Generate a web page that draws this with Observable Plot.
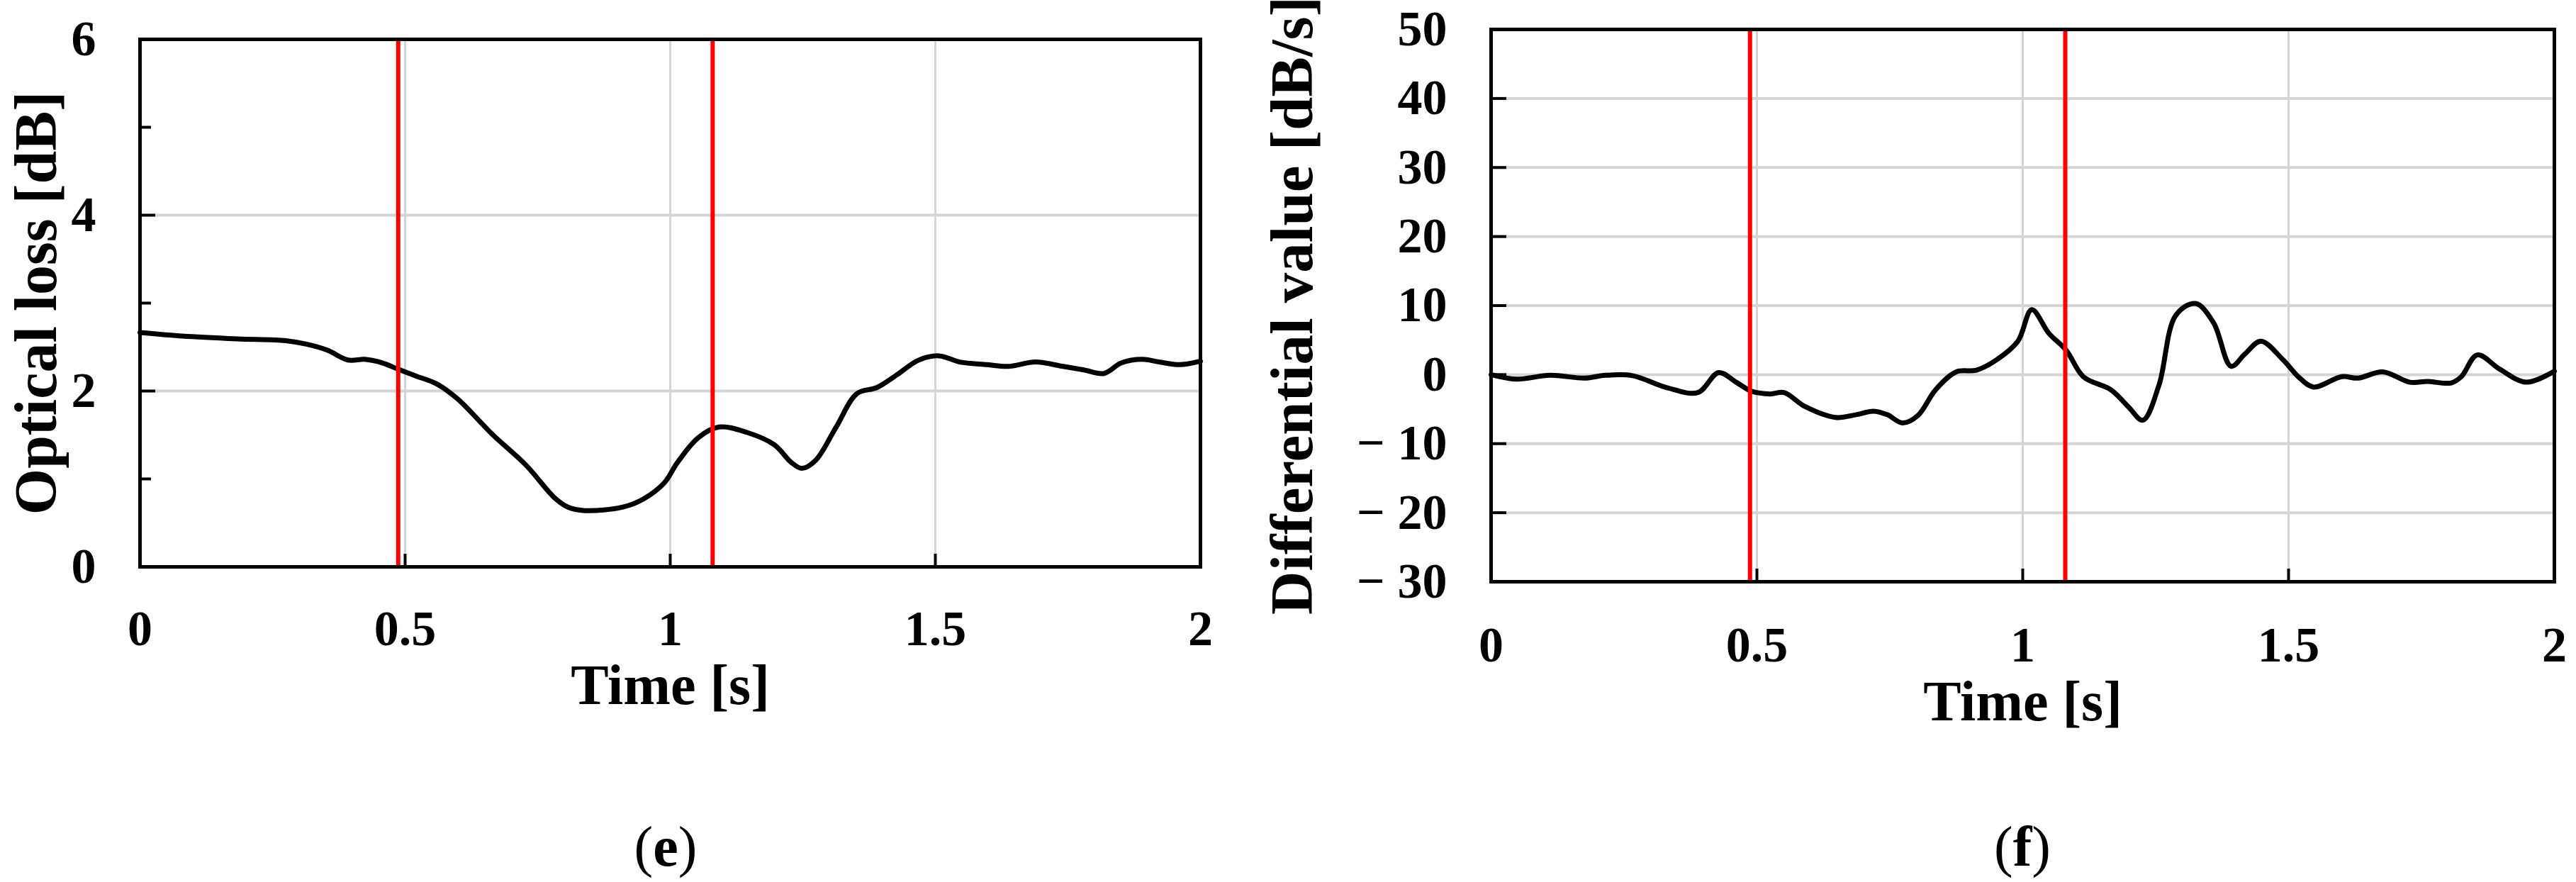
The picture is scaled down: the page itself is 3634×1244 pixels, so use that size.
<!DOCTYPE html>
<html>
<head>
<meta charset="utf-8">
<script src="https://cdn.jsdelivr.net/npm/d3@7"></script>
<script src="https://cdn.jsdelivr.net/npm/@observablehq/plot@0.6"></script>
<style>
  html, body { margin: 0; padding: 0; background: white; }
  #wrap { position: relative; width: 3634px; height: 1244px; background: white; }
  #wrap svg { position: absolute; top: 0; }
  .cap { position: absolute; top: 1194px; transform: translate(-50%, -50%);
         font-family: "Liberation Serif", "Times New Roman", serif; font-size: 80px; color: black; white-space: nowrap; }
  .cap b { font-weight: bold; }
</style>
</head>
<body>
<div id="wrap"></div>
<script>
// ---- Panel (e): optical loss ----
const timeE = [0, 0.08, 0.184, 0.275, 0.314, 0.353, 0.392, 0.424, 0.457, 0.486, 0.521, 0.560, 0.599, 0.664, 0.729, 0.781, 0.807, 0.839, 0.911, 0.949, 0.988, 1.014, 1.053, 1.092, 1.144, 1.196, 1.228, 1.248, 1.274, 1.313, 1.352, 1.390, 1.429, 1.468, 1.507, 1.546, 1.598, 1.637, 1.689, 1.741, 1.780, 1.818, 1.851, 1.890, 1.922, 1.961, 2.0];
const lossE = [2.665, 2.625, 2.593, 2.573, 2.533, 2.465, 2.353, 2.36, 2.32, 2.25, 2.17, 2.08, 1.91, 1.51, 1.15, 0.79, 0.68, 0.64, 0.68, 0.77, 0.95, 1.19, 1.47, 1.59, 1.53, 1.39, 1.19, 1.12, 1.21, 1.59, 1.97, 2.04, 2.19, 2.35, 2.40, 2.33, 2.30, 2.28, 2.33, 2.28, 2.24, 2.20, 2.32, 2.36, 2.33, 2.30, 2.34];

// ---- Panel (f): differential value ----
const timeF = [0, 0.047, 0.111, 0.176, 0.215, 0.266, 0.331, 0.389, 0.428, 0.461, 0.490, 0.525, 0.551, 0.590, 0.648, 0.687, 0.719, 0.745, 0.774, 0.803, 0.836, 0.875, 0.913, 0.952, 0.991, 1.017, 1.049, 1.082, 1.114, 1.166, 1.198, 1.226, 1.256, 1.288, 1.325, 1.359, 1.392, 1.418, 1.448, 1.489, 1.521, 1.547, 1.600, 1.631, 1.677, 1.728, 1.761, 1.806, 1.825, 1.855, 1.897, 1.947, 2.0];
const diffF = [0, -0.65, -0.1, -0.5, -0.1, -0.15, -1.9, -2.6, 0.3, -1.1, -2.4, -2.8, -2.6, -4.6, -6.2, -5.8, -5.3, -5.8, -7.0, -5.9, -2.2, 0.4, 0.65, 2.2, 4.85, 9.4, 6.0, 3.5, -0.3, -2.2, -4.6, -6.6, -1.6, 8.6, 10.3, 7.5, 1.2, 3.0, 4.85, 2.2, -0.5, -1.8, -0.3, -0.5, 0.4, -1.1, -1.0, -1.2, -0.3, 2.85, 0.8, -1.1, 0.5];

// event markers (red vertical lines)
const markerTimes = [0.487, 1.08];

// axes
const xTicks = [0, 0.5, 1, 1.5, 2];
const xGrid = [0.5, 1, 1.5];
const yTicksE = [0, 2, 4, 6];
const yMinorE = [1, 3, 5];
const yGridE = [2, 4];
const yTicksF = [50, 40, 30, 20, 10, 0, -10, -20, -30];
const yGridF = [40, 30, 20, 10, 0, -10, -20];

const labels = {
  xE: "Time [s]", yE: "Optical loss [dB]", capE: "e",
  xF: "Time [s]", yF: "Differential value [dB/s]", capF: "f"
};

const dataE = timeE.map((t, i) => ({t, v: lossE[i]}));
const dataF = timeF.map((t, i) => ({t, v: diffF[i]}));

const font = "'Liberation Serif', 'Times New Roman', serif";
const grid = "#d4d4d4";
const fmtX = d => String(d);
const fmtYF = d => d < 0 ? "\u2212 " + Math.abs(d) : String(d);

function panel({data, yDomain, yTicks, yMinor, yGrid, yFmt, xLabel, yLabel, W, H, mL, mR, mT, mB, yLabelDx, yLabelSize, xLabelDy, xTickPad}) {
  const fw = W - mL - mR, fh = H - mT - mB;
  return Plot.plot({
    width: W, height: H,
    marginLeft: mL, marginRight: mR, marginTop: mT, marginBottom: mB,
    x: {domain: [0, 2]},
    y: {domain: yDomain},
    style: {fontFamily: font, fontWeight: "bold", fontSize: "70px", color: "black", background: "transparent", overflow: "visible"},
    marks: [
      Plot.ruleY(yGrid, {y: d => d, stroke: grid, strokeWidth: 4}),
      Plot.ruleX(xGrid, {x: d => d, stroke: grid, strokeWidth: 3}),
      // inward tick marks
      Plot.tickY(yTicks, {y: d => d, stroke: "black", strokeWidth: 4, insetRight: fw - 22}),
      Plot.tickY(yMinor, {y: d => d, stroke: "black", strokeWidth: 4, insetRight: fw - 16}),
      Plot.tickX(xTicks, {x: d => d, stroke: "black", strokeWidth: 4, insetTop: fh - 18}),
      // tick labels
      Plot.axisY({ticks: yTicks, tickSize: 0, tickPadding: 62, tickFormat: yFmt, label: null, fontSize: 70}),
      Plot.axisX({ticks: xTicks, tickSize: 0, tickPadding: xTickPad, tickFormat: fmtX, label: null, fontSize: 70}),
      Plot.line(data, {x: "t", y: "v", stroke: "black", strokeWidth: 7, curve: "catmull-rom"}),
      Plot.ruleX(markerTimes, {x: d => d, stroke: "#ff0000", strokeWidth: 6}),
      Plot.frame({stroke: "black", strokeWidth: 5}),
      Plot.text([yLabel], {text: d => d, frameAnchor: "left", textAnchor: "middle", rotate: -90, dx: yLabelDx, fontSize: yLabelSize, fontWeight: "bold", fill: "black"}),
      Plot.text([xLabel], {text: d => d, frameAnchor: "bottom", textAnchor: "middle", dy: xLabelDy, fontSize: 80, fontWeight: "bold", fill: "black"})
    ]
  });
}

const wrap = document.getElementById("wrap");
const split = 1720;

const svgE = panel({
  data: dataE, yDomain: [0, 6], yTicks: yTicksE, yMinor: yMinorE, yGrid: yGridE, yFmt: fmtX,
  xLabel: labels.xE, yLabel: labels.yE,
  W: split, H: 1244, mL: 197, mR: split - 1693, mT: 55, mB: 1244 - 799,
  yLabelDx: -145, yLabelSize: 84, xLabelDy: 193, xTickPad: 61
});
svgE.style.left = "0px";
wrap.appendChild(svgE);

const svgF = panel({
  data: dataF, yDomain: [-30, 50], yTicks: yTicksF, yMinor: [], yGrid: yGridF, yFmt: fmtYF,
  xLabel: labels.xF, yLabel: labels.yF,
  W: 3634 - split, H: 1244, mL: 2103 - split, mR: 3634 - 3603, mT: 41, mB: 1244 - 820,
  yLabelDx: -280, yLabelSize: 85, xLabelDy: 195, xTickPad: 63
});
svgF.style.left = split + "px";
wrap.appendChild(svgF);

// panel captions
const capE = document.createElement("div");
capE.className = "cap"; capE.style.left = "939px";
capE.innerHTML = "(<b>" + labels.capE + "</b>)";
wrap.appendChild(capE);
const capF = document.createElement("div");
capF.className = "cap"; capF.style.left = "2853px";
capF.innerHTML = "(<b>" + labels.capF + "</b>)";
wrap.appendChild(capF);
</script>
</body>
</html>
